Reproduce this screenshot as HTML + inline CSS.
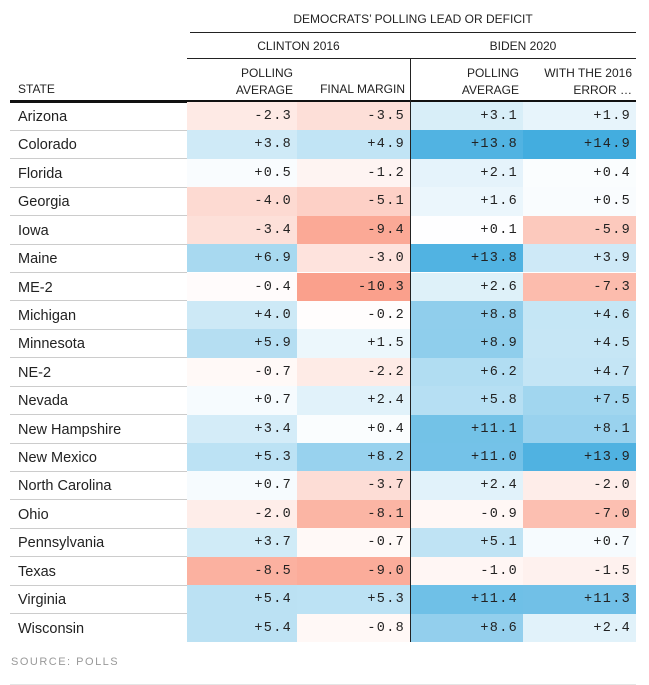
<!DOCTYPE html>
<html><head><meta charset="utf-8">
<style>
body{margin:0;width:649px;height:685px;background:#fff;font-family:"Liberation Sans",sans-serif;color:#222;position:relative;overflow:hidden}
.abs{position:absolute}
.h{font-size:12px;color:#222;white-space:nowrap}
.cell{position:absolute;height:28.4px;line-height:29.5px;text-align:right;font-family:"Liberation Mono",monospace;font-size:13.5px;letter-spacing:1.3px;padding-right:5px;box-sizing:border-box}
.st{position:absolute;left:18px;height:28.4px;line-height:30px;font-size:14.5px;color:#222}
.rl{position:absolute;left:10px;width:177px;height:1px;background:#ccc}
</style></head><body>
<div class="abs h" style="left:190px;width:446px;top:12px;text-align:center">DEMOCRATS’ POLLING LEAD OR DEFICIT</div>
<div class="abs" style="left:190px;width:446px;top:32px;height:1px;background:#222"></div>
<div class="abs h" style="left:187px;width:223px;top:39px;text-align:center">CLINTON 2016</div>
<div class="abs h" style="left:410px;width:226px;top:39px;text-align:center">BIDEN 2020</div>
<div class="abs" style="left:187px;width:449px;top:58px;height:1px;background:#222"></div>
<div class="abs" style="left:410px;width:1px;top:58px;height:584px;background:#222;z-index:2"></div>
<div class="abs h" style="left:18px;top:82px">STATE</div>
<div class="abs h" style="left:187px;width:106px;top:65px;text-align:right;line-height:17px">POLLING<br>AVERAGE</div>
<div class="abs h" style="left:297px;width:108px;top:82px;text-align:right">FINAL MARGIN</div>
<div class="abs h" style="left:410px;width:109px;top:65px;text-align:right;line-height:17px">POLLING<br>AVERAGE</div>
<div class="abs h" style="left:523px;width:109px;top:65px;text-align:right;line-height:17px">WITH THE 2016<br>ERROR …</div>
<div class="abs" style="left:10px;width:626px;top:100px;height:3px;background:#111"></div>
<div id="tbl"></div>
<div class="abs" style="left:11px;top:656px;font-size:11px;letter-spacing:1.5px;color:#999">SOURCE: POLLS</div>
<div class="abs" style="left:10px;width:626px;top:684px;height:1px;background:#e5e5e5"></div>
<script>
const states=["Arizona","Colorado","Florida","Georgia","Iowa","Maine","ME-2","Michigan","Minnesota","NE-2","Nevada","New Hampshire","New Mexico","North Carolina","Ohio","Pennsylvania","Texas","Virginia","Wisconsin"];
const clintonPoll=[-2.3,3.8,0.5,-4.0,-3.4,6.9,-0.4,4.0,5.9,-0.7,0.7,3.4,5.3,0.7,-2.0,3.7,-8.5,5.4,5.4];
const clintonFinal=[-3.5,4.9,-1.2,-5.1,-9.4,-3.0,-10.3,-0.2,1.5,-2.2,2.4,0.4,8.2,-3.7,-8.1,-0.7,-9.0,5.3,-0.8];
const bidenPoll=[3.1,13.8,2.1,1.6,0.1,13.8,2.6,8.8,8.9,6.2,5.8,11.1,11.0,2.4,-0.9,5.1,-1.0,11.4,8.6];
const bidenErr=[1.9,14.9,0.4,0.5,-5.9,3.9,-7.3,4.6,4.5,4.7,7.5,8.1,13.9,-2.0,-7.0,0.7,-1.5,11.3,2.4];
const cols=[clintonPoll,clintonFinal,bidenPoll,bidenErr];
const colNames=["clinton-poll","clinton-final","biden-poll","biden-error"];
const colX=[187,297,410,523],colW=[110,113,113,113];
const top0=102,rh=28.42;
function color(v){
  let t,c;
  if(v>=0){t=Math.min(v/15,1);c=[66,172,223];}
  else{t=Math.min(-v/11,1);c=[250,154,132];}
  const m=i=>Math.round(255+(c[i]-255)*t);
  return `rgb(${m(0)},${m(1)},${m(2)})`;
}
function fmt(v){return (v>=0?"+":"-")+Math.abs(v).toFixed(1);}
const tb=document.getElementById('tbl');
states.forEach((s,i)=>{
  const y=top0+i*rh;
  const st=document.createElement('div');
  st.className='st';st.style.top=y+'px';st.textContent=s;
  
  
  tb.appendChild(st);
  cols.forEach((arr,j)=>{
    const c=document.createElement('div');
    c.className='cell';
    c.style.left=colX[j]+'px';c.style.width=colW[j]+'px';c.style.top=y+'px';
    c.style.background=color(arr[i]);
    c.textContent=fmt(arr[i]);
    
    
    tb.appendChild(c);
  });
  if(i>0){
    const l=document.createElement('div');
    l.className='rl';l.style.top=(y-0.5)+'px';
    
    
    tb.appendChild(l);
  }
});
</script>
</body></html>
